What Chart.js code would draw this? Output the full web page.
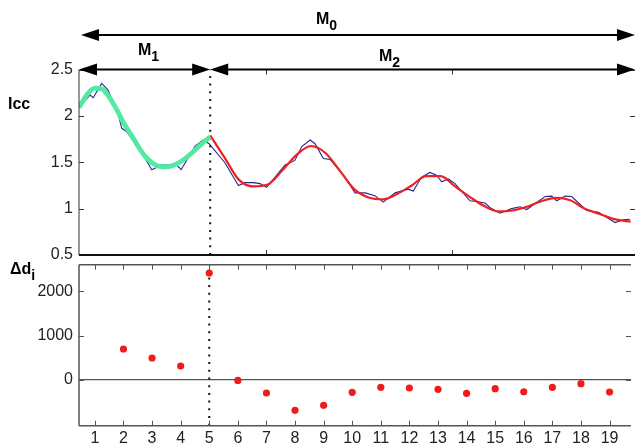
<!DOCTYPE html>
<html>
<head>
<meta charset="utf-8">
<script src="https://cdn.jsdelivr.net/npm/chart.js@4.4.1/dist/chart.umd.min.js"></script>
<style>
body { margin: 0; background: #fff; }
#wrap { position: relative; width: 635px; height: 448px; overflow: hidden; font-family: "Liberation Sans", Arial, sans-serif; }
canvas { position: absolute; left: 0; }
#top { top: 0; }
#low { top: 240px; }
.lbl { position: absolute; font-weight: bold; font-size: 16px; line-height: 16px; color: #000; white-space: nowrap; }
.lbl sub { font-size: 14px; vertical-align: -6px; line-height: 0; }
</style>
</head>
<body>
<div id="wrap">
  <canvas id="top" width="635" height="275"></canvas>
  <canvas id="low" width="635" height="208"></canvas>
  <div class="lbl" style="left:316px;top:11px">M<sub>0</sub></div>
  <div class="lbl" style="left:138px;top:42px">M<sub>1</sub></div>
  <div class="lbl" style="left:379px;top:48px">M<sub>2</sub></div>
  <div class="lbl" style="left:8px;top:96px">Icc</div>
  <div class="lbl" style="left:10px;top:261px">&Delta;d<sub>i</sub></div>
</div>
<script>
// x axis (segment index)
const xMin = 0.445, xMax = 19.75;
const xTicks = [1, 2, 3, 4, 5, 6, 7, 8, 9, 10, 11, 12, 13, 14, 15, 16, 17, 18, 19];
const splitAt = 5;

// upper panel
const topYMin = 0.5, topYMax = 2.5;
const topYTicks = [0.5, 1, 1.5, 2, 2.5];
const topAxisMax = 2980;          // the upper panel's own (unlabelled) x units
const topXTicks = [1000, 2000];

// measured Icc curve
const iccX = [0.445, 0.83, 0.94, 1.23, 1.45, 1.81, 1.93, 2.10, 2.50, 2.875, 2.97, 3.32, 3.84, 3.99, 4.47, 4.76, 4.96,
  5.50, 5.98, 6.21, 6.50, 6.73, 6.96, 7.60, 7.94, 8.18, 8.47, 8.64, 8.93, 9.16, 9.68, 10.03, 10.38, 10.72, 11.01,
  11.42, 11.88, 12.05, 12.34, 12.63, 12.86, 13.04, 13.27, 13.50, 14.02, 14.31, 14.54, 14.72, 15.06, 15.47, 15.76,
  15.99, 16.63, 16.86, 17.03, 17.32, 17.55, 18.07, 18.48, 19.06, 19.34, 19.58];
const iccY = [2.09, 2.225, 2.196, 2.35, 2.28, 2.01, 1.866, 1.83, 1.66, 1.47, 1.42, 1.47, 1.47, 1.42, 1.67, 1.74, 1.70,
  1.50, 1.25, 1.28, 1.28, 1.27, 1.23, 1.47, 1.52, 1.67, 1.74, 1.70, 1.54, 1.53, 1.34, 1.17, 1.17, 1.14, 1.07,
  1.17, 1.21, 1.19, 1.34, 1.39, 1.36, 1.29, 1.32, 1.27, 1.085, 1.075, 1.06, 1.01, 0.95, 1.00, 1.02,
  0.99, 1.13, 1.135, 1.085, 1.135, 1.13, 0.98, 0.96, 0.85, 0.88, 0.885];

// fit M1 (green)
const fit1X = [0.445, 0.75, 1, 1.25, 1.5, 1.75, 2, 2.25, 2.5, 2.75, 3, 3.25, 3.5, 3.75, 4, 4.25, 4.5, 4.75, 5];
const fit1Y = [2.09, 2.24, 2.30, 2.29, 2.20, 2.07, 1.92, 1.80, 1.67, 1.56, 1.49, 1.455, 1.45, 1.47, 1.51, 1.57, 1.64, 1.71, 1.775];

// fit M2 (red)
const fit2X = [5, 5.5, 6, 6.5, 7, 7.5, 8, 8.5, 9, 9.5, 10, 10.5, 11, 11.5, 12, 12.5, 13, 13.5, 14, 14.5, 15, 15.5,
  16, 16.5, 17, 17.5, 18, 18.5, 19, 19.6];
const fit2Y = [1.79, 1.55, 1.31, 1.24, 1.26, 1.41, 1.58, 1.675, 1.60, 1.41, 1.21, 1.12, 1.10, 1.16, 1.25, 1.35, 1.35,
  1.24, 1.13, 1.03, 0.97, 0.98, 1.02, 1.08, 1.115, 1.09, 1.0, 0.945, 0.89, 0.86];

// lower panel
const lowYMin = -1030, lowYMax = 2600;
const lowYTicks = [0, 1000, 2000];
const deltaX = [2, 3, 4, 5, 6, 7, 8, 9, 10, 11, 12, 13, 14, 15, 16, 17, 18, 19];
const deltaY = [699, 496, 316, 2413, -10, -293, -683, -570, -277, -165, -180, -210, -300, -196, -264, -165, -83, -271];

const pts = (xs, ys) => xs.map((x, i) => ({ x: x, y: ys[i] }));
const fixTicks = list => s => { s.ticks = list.map(v => ({ value: v })); };
const tickFont = { family: '"Liberation Sans", Arial, sans-serif', size: 16 };

// matlab-like box with inward ticks
const boxTicks = {
  id: 'boxTicks',
  afterDatasetsDraw(chart, args, o) {
    const { ctx, chartArea: a } = chart;
    ctx.save();
    ctx.strokeStyle = o.color;
    ctx.lineWidth = 1;
    ctx.beginPath();
    o.xScales.forEach(id => {
      const s = chart.scales[id];
      s.ticks.forEach(t => {
        const p = Math.round(s.getPixelForValue(t.value)) + 0.5;
        ctx.moveTo(p, a.bottom); ctx.lineTo(p, a.bottom - 5);
        ctx.moveTo(p, a.top); ctx.lineTo(p, a.top + 5);
      });
    });
    const ys = chart.scales.y;
    ys.ticks.forEach(t => {
      const p = Math.round(ys.getPixelForValue(t.value)) + 0.5;
      ctx.moveTo(a.left, p); ctx.lineTo(a.left + 5, p);
      ctx.moveTo(a.right, p); ctx.lineTo(a.right - 5, p);
    });
    ctx.stroke();
    const side = (w, x1, y1, x2, y2) => {
      if (!w) return;
      ctx.lineWidth = w;
      ctx.beginPath(); ctx.moveTo(x1, y1); ctx.lineTo(x2, y2); ctx.stroke();
    };
    side(o.left, a.left, a.top, a.left, a.bottom);
    side(o.top, a.left, a.top, a.right, a.top);
    ctx.strokeStyle = o.bottomColor || o.color;
    side(o.bottom, a.left, a.bottom, a.right, a.bottom);
    ctx.restore();
  }
};

// M0 / M1 / M2 range arrows
const arrows = {
  id: 'arrows',
  afterDraw(chart, args, o) {
    const { ctx, chartArea: a } = chart;
    const mid = chart.scales.x.getPixelForValue(splitAt);
    ctx.save();
    ctx.strokeStyle = '#000';
    ctx.fillStyle = '#000';
    ctx.lineWidth = 2;
    const head = (x, y, d) => {
      ctx.beginPath();
      ctx.moveTo(x, y);
      ctx.lineTo(x + d * o.len, y - o.half);
      ctx.lineTo(x + d * o.len, y + o.half);
      ctx.closePath();
      ctx.fill();
    };
    const arrow = (x1, x2, y) => {
      ctx.beginPath(); ctx.moveTo(x1 + 8, y); ctx.lineTo(x2 - 8, y); ctx.stroke();
      head(x1, y, 1); head(x2, y, -1);
    };
    arrow(a.left + 2, a.right, a.top - o.gap);
    arrow(a.left, mid, a.top);
    arrow(mid, a.right, a.top);
    ctx.restore();
  }
};

new Chart(document.getElementById('top'), {
  type: 'scatter',
  data: {
    datasets: [
      { data: pts(fit1X, fit1Y), showLine: true, borderColor: '#52eaa2', borderWidth: 4.8, pointRadius: 0, cubicInterpolationMode: 'monotone' },
      { data: pts(fit2X, fit2Y), showLine: true, borderColor: '#ee2020', borderWidth: 2.2, pointRadius: 0, cubicInterpolationMode: 'monotone' },
      { data: pts(iccX, iccY), showLine: true, borderColor: '#2a268c', borderWidth: 1.1, pointRadius: 0 },
      { data: [{ x: splitAt, y: topYMin }, { x: splitAt, y: topYMax }], showLine: true, borderColor: '#111', borderWidth: 2, borderDash: [2, 5.7], pointRadius: 0 }
    ]
  },
  options: {
    responsive: false,
    animation: false,
    devicePixelRatio: 1,
    layout: { padding: { top: 69.5, left: 0, right: 0, bottom: 0 } },
    plugins: {
      legend: { display: false },
      tooltip: { enabled: false },
      boxTicks: { color: '#333', xScales: ['xt'], left: 1, top: 0, bottom: 2, bottomColor: '#111' },
      arrows: { gap: 34.5, len: 18, half: 6 }
    },
    scales: {
      x: {
        type: 'linear', min: xMin, max: xMax,
        ticks: { display: false }, grid: { display: false, drawTicks: false }, border: { display: false },
        afterFit: s => { s.height = 20; }
      },
      xt: {
        type: 'linear', position: 'top', min: 0, max: topAxisMax,
        afterBuildTicks: fixTicks(topXTicks),
        ticks: { display: false }, grid: { display: false, drawTicks: false }, border: { display: false },
        afterFit: s => { s.height = 0; }
      },
      y: {
        min: topYMin, max: topYMax,
        afterBuildTicks: fixTicks(topYTicks),
        ticks: { padding: 6, font: tickFont, color: '#222', callback: v => String(v) },
        grid: { display: false, drawTicks: false }, border: { display: false },
        afterFit: s => { s.width = 79; }
      }
    }
  },
  plugins: [boxTicks, arrows]
});

new Chart(document.getElementById('low'), {
  type: 'scatter',
  data: {
    datasets: [
      { data: pts(deltaX, deltaY), backgroundColor: '#f01c1c', borderWidth: 0, pointRadius: 3.6 },
      { data: [{ x: splitAt, y: lowYMin }, { x: splitAt, y: lowYMax }], showLine: true, borderColor: '#111', borderWidth: 2, borderDash: [2, 5.7], pointRadius: 0 }
    ]
  },
  options: {
    responsive: false,
    animation: false,
    devicePixelRatio: 1,
    layout: { padding: { top: 24.7, left: 0, right: 0, bottom: 0 } },
    plugins: {
      legend: { display: false },
      tooltip: { enabled: false },
      boxTicks: { color: '#555', xScales: ['x'], left: 1.5, top: 1.5, bottom: 1.5 }
    },
    scales: {
      x: {
        type: 'linear', min: xMin, max: xMax,
        afterBuildTicks: fixTicks(xTicks),
        ticks: { padding: 3, font: tickFont, color: '#222', maxRotation: 0, autoSkip: false },
        grid: { display: false, drawTicks: false }, border: { display: false },
        afterFit: s => { s.height = 22.3; }
      },
      y: {
        min: lowYMin, max: lowYMax,
        afterBuildTicks: fixTicks(lowYTicks),
        ticks: { padding: 6, font: tickFont, color: '#222', callback: v => String(v) },
        grid: { drawTicks: false, lineWidth: 1.2, color: c => (c.tick && c.tick.value === 0 ? '#555' : 'rgba(0,0,0,0)') },
        border: { display: false },
        afterFit: s => { s.width = 79; }
      }
    }
  },
  plugins: [boxTicks]
});
</script>
</body>
</html>
